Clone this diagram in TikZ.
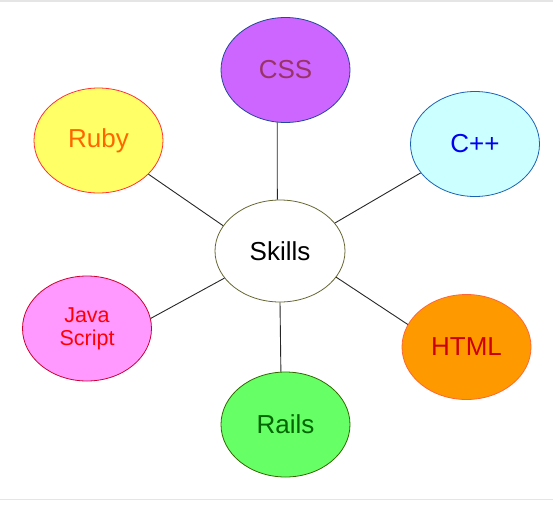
\documentclass[tikz,border=0pt]{standalone}
\usepackage{fontspec}
\setmainfont{Liberation Sans}
\usetikzlibrary{shapes.geometric}

\definecolor{hubline}{HTML}{666633}
\definecolor{cssfill}{HTML}{CC66FF}
\definecolor{cssline}{HTML}{23479B}
\definecolor{csstext}{HTML}{993366}
\definecolor{cppfill}{HTML}{CCFFFF}
\definecolor{cppline}{HTML}{1C62B4}
\definecolor{cpptext}{HTML}{0000EE}
\definecolor{rubyfill}{HTML}{FFFF66}
\definecolor{rubyline}{HTML}{FF3333}
\definecolor{rubytext}{HTML}{FF6600}
\definecolor{jsfill}{HTML}{FF99FF}
\definecolor{jsline}{HTML}{CC0033}
\definecolor{jstext}{HTML}{FF0000}
\definecolor{htmlfill}{HTML}{FF9900}
\definecolor{htmlline}{HTML}{FF6633}
\definecolor{htmltext}{HTML}{CC0000}
\definecolor{railsfill}{HTML}{66FF66}
\definecolor{railsline}{HTML}{336600}
\definecolor{railstext}{HTML}{006600}

\begin{document}
\begin{tikzpicture}[
    x = 1pt, y = -1pt,
    skill/.style = {ellipse, line width = 0.8pt, inner sep = 0pt,
        minimum width = 129pt, minimum height = 105pt,
        font = \fontsize{26}{30}\selectfont},
    link/.style = {line width = 0.9pt, black!85}]

\useasboundingbox (0,0) rectangle (553,504);
\draw[black!10, line width = 1.5pt] (0,0.75) -- (553,0.75)
      (0,499.5) -- (553,499.5);

% the hub
\node[skill, draw = hubline, fill = white,
      minimum width = 130pt, minimum height = 102pt] (skills) at (280,251) {Skills};

% the skills round it
\node[skill, draw = cssline, fill = cssfill, text = csstext] (css) at (285.5,70) {CSS};
\node[skill, draw = cppline, fill = cppfill, text = cpptext] (cpp) at (475,144) {C++};
\node[skill, draw = rubyline, fill = rubyfill, text = rubytext] (ruby) at (98.5,140.5) {Ruby};
\node[skill, draw = jsline, fill = jsfill, text = jstext, align = center,
      font = \fontsize{21.5}{23}\selectfont] (js) at (87,328.5) {Java\\Script};
\node[skill, draw = htmlline, fill = htmlfill, text = htmltext] (html) at (466.5,347) {HTML};
\node[skill, draw = railsline, fill = railsfill, text = railstext] (rails) at (285.5,424.5) {Rails};

\draw[link] (skills.93) -- (css.261)
      (skills.27) -- (cpp.208)
      (skills.156) -- (ruby.326)
      (skills.206) -- (js.9)
      (skills.335) -- (html.159)
      (skills.270) -- (rails.95);
\end{tikzpicture}
\end{document}
